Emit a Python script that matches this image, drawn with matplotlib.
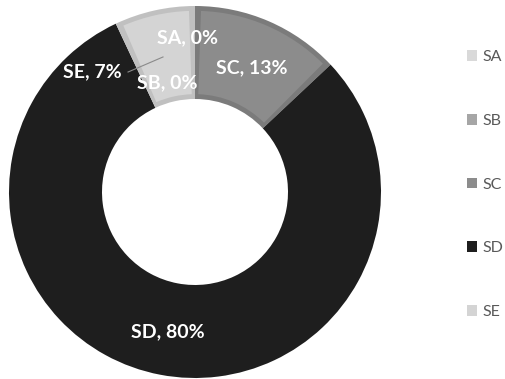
import matplotlib.pyplot as plt
from matplotlib.patches import Wedge, Patch

# share of each segment (percent)
segmentos = ['SA', 'SB', 'SC', 'SD', 'SE']
valores = [0, 0, 13, 80, 7]
cores = ['#d9d9d9', '#a6a6a6', '#8c8c8c', '#1e1e1e', '#d4d4d4']
bordas = ['#c4c4c4', '#959595', '#7b7b7b', '#1e1e1e', '#c0c0c0']

# where each data label sits inside the ring
pos_rotulos = {
    'SA': (-0.04, 0.83),
    'SB': (-0.15, 0.586),
    'SC': (0.306, 0.667),
    'SD': (-0.145, -0.753),
    'SE': (-0.554, 0.645),
}

plt.rcParams['font.family'] = ['Lato', 'DejaVu Sans']

fig = plt.figure(figsize=(5.05, 3.79), dpi=100)
ax = fig.add_axes([9/505, 1/379, 372/505, 372/379])

larg = 0.5
fatias, _ = ax.pie(valores, colors=bordas, startangle=90, counterclock=False,
                   radius=1, wedgeprops=dict(width=larg, linewidth=0))

# lighter inner face to get the bevelled border look
d = 0.026
for w, cor, v in zip(fatias, cores, valores):
    if v == 0:
        w.set_visible(False)
        continue
    da = 1.9
    ax.add_patch(Wedge((0, 0), 1 - d, w.theta1 + da, w.theta2 - da,
                       width=larg - 2 * d, facecolor=cor, linewidth=0))

for nome, v in zip(segmentos, valores):
    x, y = pos_rotulos[nome]
    ax.text(x, y, '{}, {}%'.format(nome, v), ha='center', va='center',
            color='white', fontsize=14, fontweight='bold')

# leader line for the SE label
ax.plot([-0.36, -0.172], [0.645, 0.726], color='#8a8a8a', lw=0.8)

ax.set_xlim(-1, 1)
ax.set_ylim(-1, 1)
ax.set_aspect('equal')
ax.axis('off')

handles = [Patch(facecolor=c, edgecolor='none') for c in cores]
fig.legend(handles, segmentos, loc='center left', bbox_to_anchor=(0.912, 0.513),
           frameon=False, fontsize=11.5, labelcolor='#595959',
           handlelength=0.65, handleheight=0.65, handletextpad=0.3,
           labelspacing=3.11, borderaxespad=0)

fig.savefig('out.png', dpi=100)
